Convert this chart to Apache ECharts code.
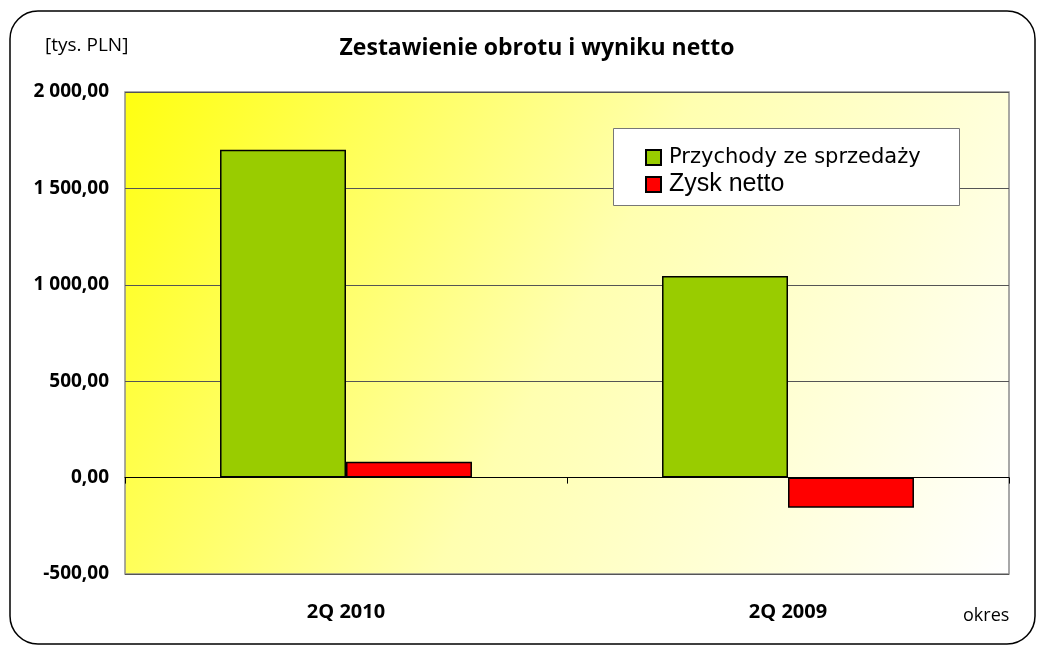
<!DOCTYPE html>
<html><head><meta charset="utf-8">
<script src="https://cdn.jsdelivr.net/npm/echarts@6/dist/echarts.min.js"></script>
<style>html,body{margin:0;padding:0;background:#fff}#c{width:1042px;height:646px}</style>
</head><body><div id="c"></div>
<script>
const categories = ['2Q 2010', '2Q 2009'];
const seriesNames = ['Przychody ze sprzedaży', 'Zysk netto'];
const revenue = [1700, 1045];
const netProfit = [82, -156];
const yTicks = { min: -500, max: 2000, interval: 500 };

const FONT = '"Open Sans", Lato, sans-serif';
function fmt(v) {
  const neg = v < 0; v = Math.abs(v);
  let s = v.toFixed(2).split('.');
  let i = s[0].replace(/\B(?=(\d{3})+(?!\d))/g, ' ');
  return (neg ? '-' : '') + i + ',' + s[1];
}
const chart = echarts.init(document.getElementById('c'));
chart.setOption({
  animation: false,
  backgroundColor: '#fff',
  title: {
    text: 'Zestawienie obrotu i wyniku netto',
    left: 532, top: 32, textAlign: 'center',
    textStyle: { fontFamily: FONT, fontWeight: 'bold', fontSize: 23, color: '#000' }
  },
  grid: {
    left: 125, right: 33, top: 92, bottom: 72, show: true,
    borderColor: '#8c8c8c', borderWidth: 1.5,
    backgroundColor: new echarts.graphic.LinearGradient(0, 0, 1, 1, [
      { offset: 0, color: '#ffff10' },
      { offset: 0.5, color: '#ffffb0' },
      { offset: 1, color: '#ffffff' }
    ])
  },
  legend: {
    orient: 'vertical', left: 645, top: 147, itemWidth: 15, itemHeight: 15, itemGap: 4, z: 10,
    padding: 0, icon: 'rect',
    data: seriesNames,
    formatter: n => n === seriesNames[0] ? '{a|' + n + '}' : '{b|' + n + '}',
    textStyle: {
      rich: {
        a: { fontFamily: '"DejaVu Sans", sans-serif', fontSize: 21, lineHeight: 22, padding: [0, 0, 0, 3], color: '#000' },
        b: { fontFamily: '"Liberation Sans", Arial, sans-serif', fontSize: 25, lineHeight: 22, padding: [0, 0, 0, 3], color: '#000' }
      }
    }
  },
  xAxis: [{
    type: 'category', data: categories,
    axisLine: { onZero: true, lineStyle: { color: '#000', width: 1 } },
    axisTick: { show: true, length: 6, lineStyle: { color: '#000' } },
    axisLabel: { show: false }
  }, {
    type: 'category', data: categories, position: 'bottom',
    axisLine: { show: false, onZero: false }, axisTick: { show: false },
    axisLabel: { margin: 28, fontFamily: FONT, fontWeight: 'bold', fontSize: 20, color: '#000' }
  }],
  yAxis: {
    type: 'value', min: yTicks.min, max: yTicks.max, interval: yTicks.interval,
    axisLine: { show: false }, axisTick: { show: false },
    splitLine: { lineStyle: { color: '#555', width: 1 } },
    axisLabel: { margin: 16, fontFamily: FONT, fontWeight: 'bold', fontSize: 19, color: '#000', formatter: fmt }
  },
  series: [{
    name: seriesNames[0], type: 'bar', data: revenue, xAxisIndex: 0,
    barGap: '0%', barCategoryGap: '43%',
    itemStyle: { color: '#99cc00', borderColor: '#000', borderWidth: 1.5 }
  }, {
    name: seriesNames[1], type: 'bar', data: netProfit, xAxisIndex: 0,
    barGap: '0%', barCategoryGap: '43%',
    itemStyle: { color: '#ff0000', borderColor: '#000', borderWidth: 1.5 }
  }],
  graphic: [
    { type: 'rect', z: -1, shape: { x: 10, y: 11, width: 1025, height: 633, r: 28 },
      style: { fill: 'none', stroke: '#000', lineWidth: 1.5 } },
    { type: 'rect', z: 3, shape: { x: 613.5, y: 128.5, width: 346, height: 77 },
      style: { fill: '#fff', stroke: '#777', lineWidth: 1 } },
    { type: 'text', left: 45, top: 36, z: 10,
      style: { text: '[tys. PLN]', fontFamily: FONT, fontSize: 19, fill: '#000' } },
    { type: 'text', left: 963, top: 607, z: 10,
      style: { text: 'okres', fontFamily: FONT, fontSize: 18, fill: '#000' } }
  ]
});
</script></body></html>
